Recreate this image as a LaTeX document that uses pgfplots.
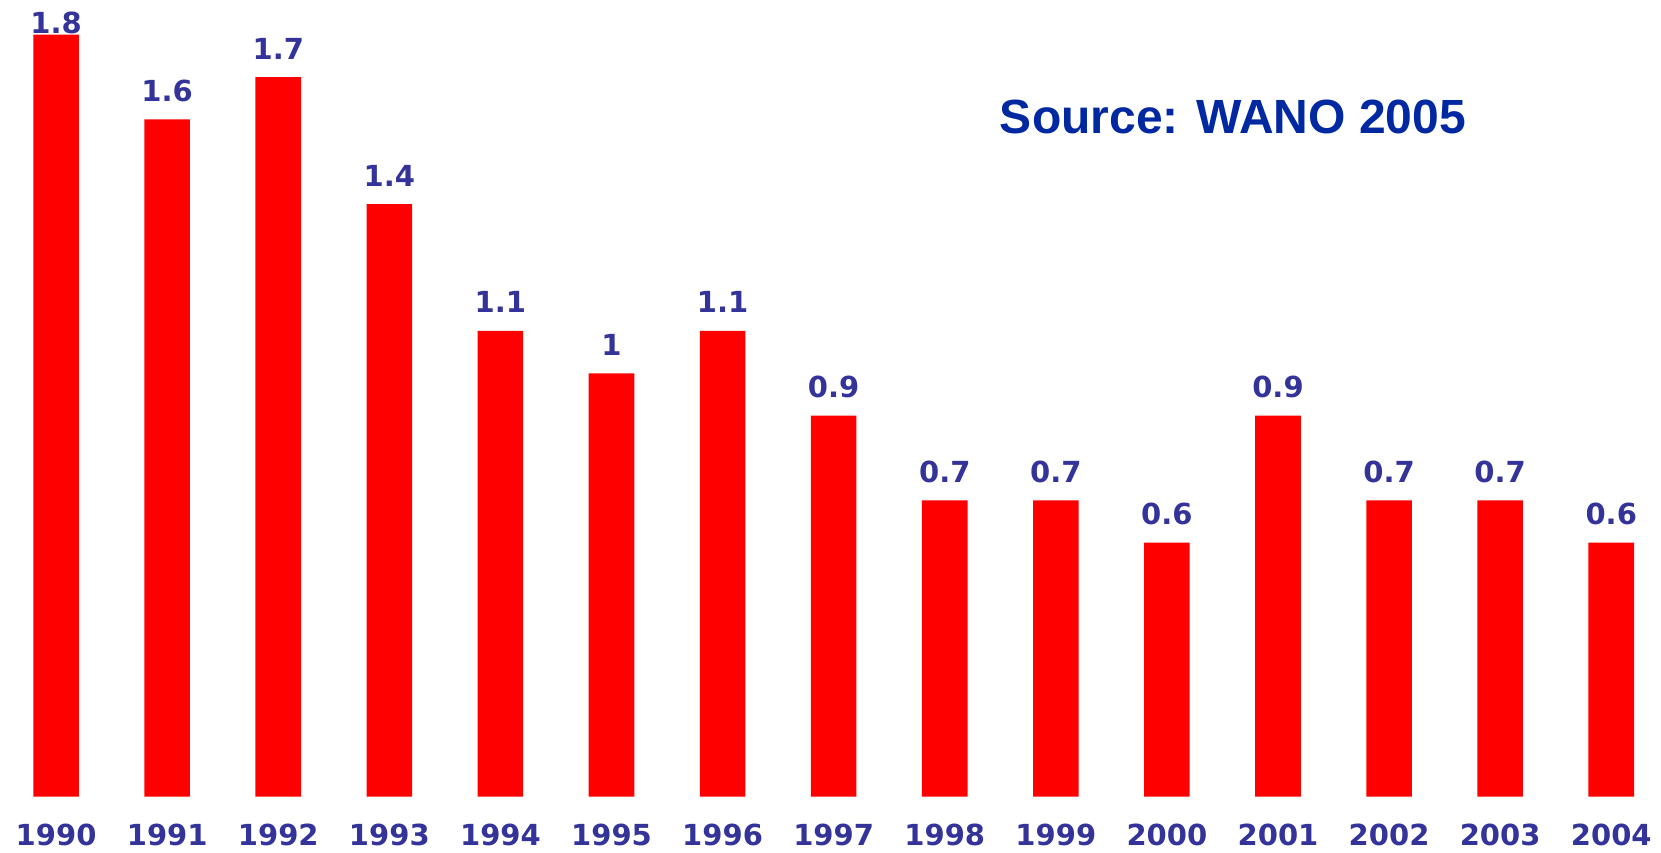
\documentclass[border=0pt]{standalone}
\usepackage{pgfplots}
\pgfplotsset{compat=1.18}
\usepackage{fontspec}
\setmainfont{Liberation Sans}
\newfontfamily\lblfont{DejaVu Sans}
\definecolor{barred}{RGB}{255,0,0}
\definecolor{lblblue}{RGB}{51,51,153}
\definecolor{srcblue}{RGB}{0,40,160}
\begin{document}
\begin{tikzpicture}
\begin{axis}[
  at={(0,0)}, anchor=south west,
  scale only axis,
  width=830.5pt, height=398.3pt,
  xmin=-0.505, xmax=14.448,
  ymin=0, ymax=1.882,
  clip=false,
  axis line style={draw=none},
  tick style={draw=none},
  major tick length=0pt,
  ytick=\empty,
  xtick={0,...,14},
  xticklabels={1990,1991,1992,1993,1994,1995,1996,1997,1998,1999,2000,2001,2002,2003,2004},
  every x tick label/.append style={anchor=base, inner sep=0pt, yshift=-24.3pt,
    font=\lblfont\bfseries\fontsize{14.5pt}{14.5pt}\selectfont, text=lblblue},
]
\addplot[ybar, bar width=22.8pt, fill=barred, draw=none,
  visualization depends on={ifthenelse(y>1.75,1,0)\as\istop},
  nodes near coords={\pgfmathprintnumber[fixed,precision=1,assume math mode=true]{\pgfplotspointmeta}},
  nodes near coords style={anchor=base, inner sep=0pt, yshift=9pt-8.15pt*\istop,
    font=\lblfont\bfseries\fontsize{14.5pt}{14.5pt}\selectfont, text=lblblue},
] coordinates {
 (0,1.8) (1,1.6) (2,1.7) (3,1.4) (4,1.1) (5,1.0) (6,1.1) (7,0.9)
 (8,0.7) (9,0.7) (10,0.6) (11,0.9) (12,0.7) (13,0.7) (14,0.6)
};
\node[anchor=base, inner sep=0pt, text=srcblue, font=\bfseries\fontsize{24pt}{24pt}\selectfont]
  at (rel axis cs:0.7423,0.8327) {Source: WANO 2005};
\end{axis}
\pgfresetboundingbox
\path[use as bounding box] (0,-27.7pt) rectangle (830.5pt,398.3pt);
\end{tikzpicture}
\end{document}
